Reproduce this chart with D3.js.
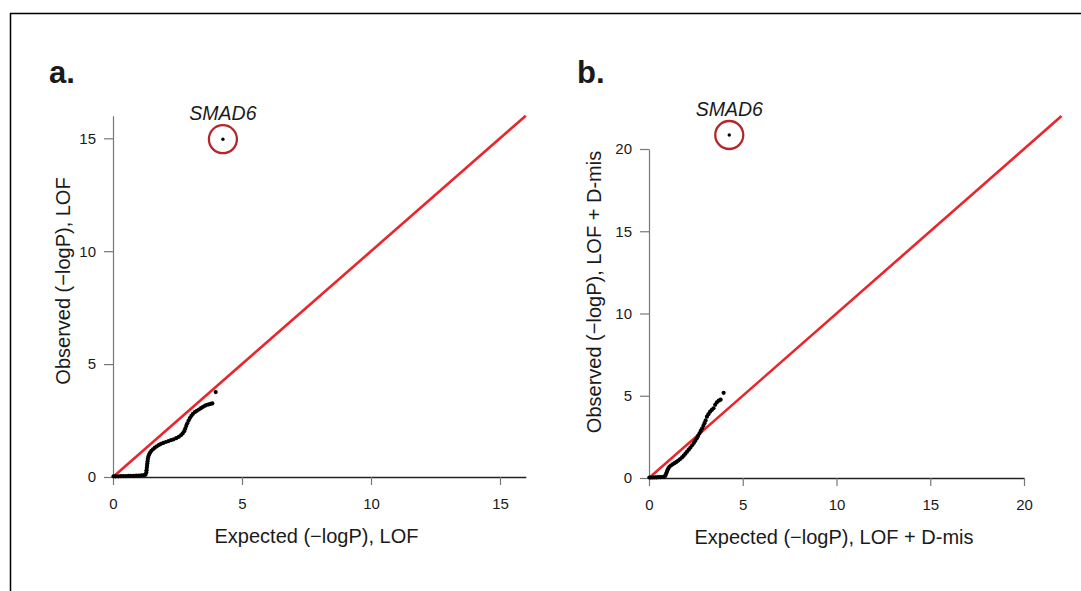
<!DOCTYPE html>
<html>
<head>
<meta charset="utf-8">
<script src="https://cdn.jsdelivr.net/npm/d3@7"></script>
<style>
  body { margin: 0; background: #fff; }
  text { font-family: "Liberation Sans", Arial, Helvetica, sans-serif; fill: #1a1a1a; }
</style>
</head>
<body>
<svg id="chart" width="1081" height="591"></svg>
<script>
// Panel a: LOF (expected vs observed -logP)
var lofExpected = [0.02, 0.1, 0.2, 0.3, 0.4, 0.5, 0.6, 0.7, 0.8, 0.9, 1.0, 1.1, 1.2, 1.26,
  1.29, 1.3, 1.31, 1.32, 1.33, 1.34, 1.35, 1.37, 1.4, 1.44, 1.49, 1.55, 1.62, 1.7, 1.78,
  1.86, 1.95, 2.05, 2.15, 2.25, 2.35, 2.45, 2.55, 2.63, 2.7, 2.76, 2.8, 2.84, 2.88, 2.93,
  2.98, 3.04, 3.1, 3.17, 3.25, 3.33, 3.41, 3.49, 3.57, 3.65, 3.72, 3.79, 3.85, 3.98];
var lofObserved = [0.03, 0.03, 0.03, 0.04, 0.04, 0.04, 0.05, 0.05, 0.05, 0.06, 0.06, 0.07, 0.08, 0.1,
  0.2, 0.3, 0.4, 0.5, 0.6, 0.7, 0.8, 0.9, 1.0, 1.08, 1.16, 1.23, 1.3, 1.36, 1.42,
  1.47, 1.51, 1.55, 1.59, 1.63, 1.67, 1.72, 1.78, 1.85, 1.93, 2.03, 2.14, 2.26, 2.38, 2.5,
  2.61, 2.71, 2.8, 2.87, 2.93, 2.99, 3.05, 3.11, 3.16, 3.2, 3.22, 3.24, 3.26, 3.76];
var lofHit = { gene: 'SMAD6', expected: 4.26, observed: 14.96 };

// Panel b: LOF + D-mis
var dmisExpected = [0.02, 0.1, 0.2, 0.3, 0.4, 0.5, 0.6, 0.7, 0.8, 0.86, 0.9, 0.94, 0.98,
  1.03, 1.09, 1.17, 1.26, 1.36, 1.46, 1.56, 1.66, 1.76, 1.85, 1.94, 2.03, 2.12, 2.21, 2.3,
  2.39, 2.47, 2.55, 2.62, 2.69, 2.76, 2.83, 2.9, 2.96, 3.02, 3.09, 3.17, 3.26, 3.35, 3.44,
  3.53, 3.62, 3.72, 3.82, 3.98];
var dmisObserved = [0.03, 0.03, 0.03, 0.04, 0.04, 0.05, 0.05, 0.06, 0.08, 0.12, 0.22, 0.34, 0.46,
  0.58, 0.68, 0.76, 0.83, 0.9, 0.98, 1.06, 1.15, 1.25, 1.36, 1.48, 1.6, 1.72, 1.85, 1.99,
  2.13, 2.27, 2.41, 2.56, 2.71, 2.86, 3.01, 3.17, 3.33, 3.5, 3.73, 3.88, 4.03, 4.14, 4.24,
  4.45, 4.6, 4.7, 4.76, 5.18];
var dmisHit = { gene: 'SMAD6', expected: 4.28, observed: 20.85 };

var lofTicks = [0, 5, 10, 15];
var dmisTicks = [0, 5, 10, 15, 20];

var svg = d3.select('#chart');

// frame lines (top and left)
svg.append('path')
   .attr('d', 'M10.5,591 L10.5,13.5 L1081,13.5')
   .attr('fill', 'none')
   .attr('stroke', '#000')
   .attr('stroke-width', 1.5);

function drawPanel(opt) {
  var x = d3.scaleLinear().domain([0, opt.lineMax]).range([opt.x0, opt.x0 + opt.lineMax * opt.kx]);
  var y = d3.scaleLinear().domain([0, opt.lineMax]).range([opt.y0, opt.y0 - opt.lineMax * opt.ky]);
  var xAxisScale = d3.scaleLinear().domain([0, opt.axisMax]).range([x(0), x(opt.axisMax)]);
  var yAxisScale = d3.scaleLinear().domain([0, opt.axisMax]).range([y(0), y(opt.axisMax)]);

  var g = svg.append('g');

  // x axis
  var xa = g.append('g')
            .attr('transform', 'translate(0,' + opt.y0 + ')')
            .call(d3.axisBottom(xAxisScale).tickValues(opt.ticks).tickSize(8).tickSizeOuter(0).tickPadding(13));
  xa.select('.domain').attr('stroke', '#222').attr('stroke-width', 1.3);
  xa.selectAll('.tick line').attr('stroke', '#777').attr('stroke-width', 1.2);
  xa.selectAll('.tick text').style('font-size', '15px').attr('fill', '#1a1a1a')
    .style('font-family', '"Liberation Sans", Arial, sans-serif');

  // y axis
  var ya = g.append('g')
            .attr('transform', 'translate(' + opt.x0 + ',0)')
            .call(d3.axisLeft(yAxisScale).tickValues(opt.ticks).tickSize(9).tickSizeOuter(0).tickPadding(8));
  ya.select('.domain').attr('stroke', '#777').attr('stroke-width', 1.2);
  ya.selectAll('.tick line').attr('stroke', '#777').attr('stroke-width', 1.2);
  ya.selectAll('.tick text').style('font-size', '15px').attr('fill', '#1a1a1a')
    .style('font-family', '"Liberation Sans", Arial, sans-serif');

  // identity line
  g.append('line')
   .attr('x1', x(0)).attr('y1', y(0))
   .attr('x2', x(opt.lineMax)).attr('y2', y(opt.lineMax))
   .attr('stroke', '#e8262b')
   .attr('stroke-width', 2.6);

  // points
  var pts = opt.expected.map(function(d, i) { return [d, opt.observed[i]]; });
  pts.push([opt.hit.expected, opt.hit.observed]);
  g.append('g').selectAll('circle')
   .data(pts)
   .enter().append('circle')
     .attr('cx', function(d) { return x(d[0]); })
     .attr('cy', function(d) { return y(d[1]); })
     .attr('r', function(d, i) { return i === pts.length - 1 ? 1.7 : 2.1; })
     .attr('fill', '#000');

  // highlighted gene
  g.append('circle')
   .attr('cx', x(opt.hit.expected))
   .attr('cy', y(opt.hit.observed))
   .attr('r', 14)
   .attr('fill', 'none')
   .attr('stroke', '#b3272c')
   .attr('stroke-width', 2.3);
  g.append('text')
   .attr('x', x(opt.hit.expected))
   .attr('y', y(opt.hit.observed) - 19)
   .attr('text-anchor', 'middle')
   .attr('font-size', 19.5)
   .attr('font-style', 'italic')
   .text(opt.hit.gene);

  // axis titles
  g.append('text')
   .attr('x', opt.xTitleX)
   .attr('y', opt.y0 + 66)
   .attr('text-anchor', 'middle')
   .attr('font-size', 20)
   .text(opt.xTitle);
  g.append('text')
   .attr('transform', 'translate(' + opt.yTitleX + ',' + opt.yTitleY + ') rotate(-90)')
   .attr('text-anchor', 'middle')
   .attr('font-size', 20)
   .text(opt.yTitle);

  // panel letter
  g.append('text')
   .attr('x', opt.letterX)
   .attr('y', 83)
   .attr('font-size', 31)
   .attr('font-weight', 'bold')
   .text(opt.letter);
}

drawPanel({
  x0: 113, y0: 477, kx: 25.8, ky: 22.58,
  lineMax: 16, axisMax: 16, ticks: lofTicks,
  expected: lofExpected, observed: lofObserved, hit: lofHit,
  xTitle: 'Expected (\u2212logP), LOF', yTitle: 'Observed (\u2212logP), LOF',
  xTitleX: 316.5, yTitleX: 69.5, yTitleY: 281, letter: 'a.', letterX: 49
});

drawPanel({
  x0: 649, y0: 478, kx: 18.75, ky: 16.45,
  lineMax: 22, axisMax: 20, ticks: dmisTicks,
  expected: dmisExpected, observed: dmisObserved, hit: dmisHit,
  xTitle: 'Expected (\u2212logP), LOF + D-mis', yTitle: 'Observed (\u2212logP), LOF + D-mis',
  xTitleX: 834, yTitleX: 601, yTitleY: 292, letter: 'b.', letterX: 577
});
</script>
</body>
</html>
